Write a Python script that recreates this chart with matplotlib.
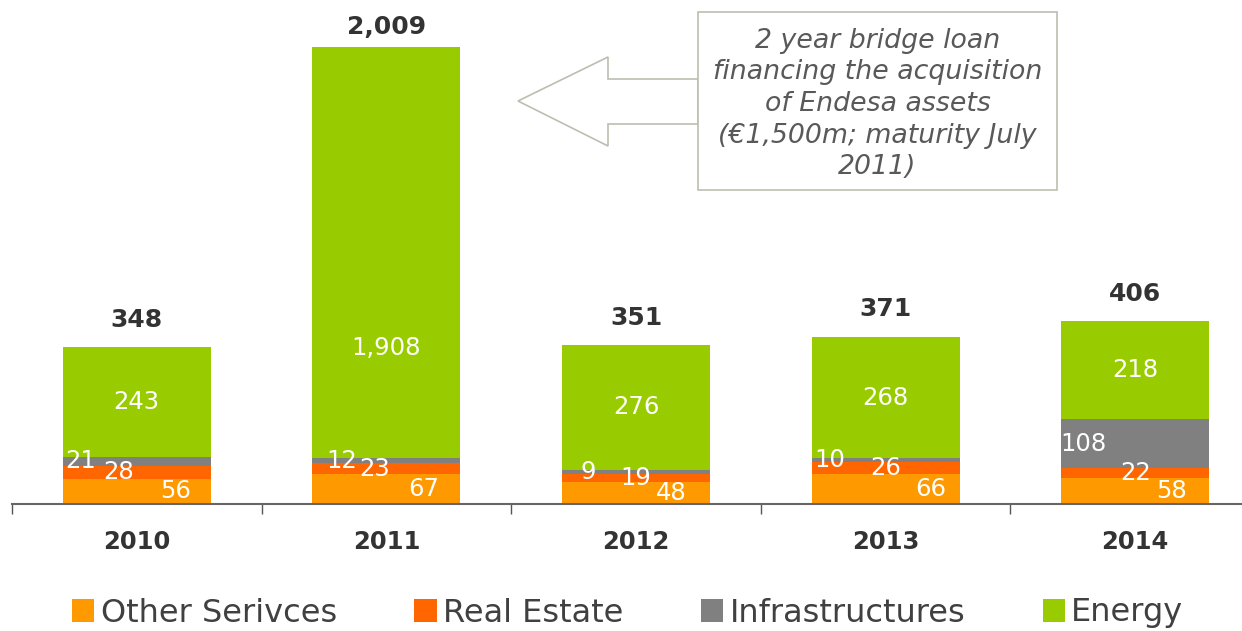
import numpy as np
import matplotlib
matplotlib.use("Agg")
import matplotlib.pyplot as plt
from matplotlib.patches import Polygon, Rectangle

years = ["2010", "2011", "2012", "2013", "2014"]
other_services = [56, 67, 48, 66, 58]
real_estate = [28, 23, 19, 26, 22]
infrastructures = [21, 12, 9, 10, 108]
energy = [243, 1908, 276, 268, 218]
totals = [348, 2009, 351, 371, 406]
series_names = ["Other Serivces", "Real Estate", "Infrastructures", "Energy"]

colors = ["#FF9900", "#FF6600", "#808080", "#99CC00"]
# label x-offsets (category units) for the small segments, per year
offs = {
    0: [0.156, 0.148, 0.143, 0.18, 0.145],
    1: [-0.072, -0.048, 0.0, 0.0, 0.0],
    2: [-0.224, -0.18, -0.19, -0.224, -0.208],
}
ymax = 1013  # 2011 bar is cut at the top of the plot

W, H = 1242, 631
fig = plt.figure(figsize=(W / 100, H / 100), dpi=100)
ax = fig.add_axes([12 / W, 1 - 504 / H, (W - 12) / W, 457 / H])

x = np.arange(len(years))
series = [other_services, real_estate, infrastructures, energy]
bottom = np.zeros(len(years))
for k, (vals, c) in enumerate(zip(series, colors)):
    ax.bar(x, vals, 0.593, bottom=bottom, color=c, label=series_names[k], zorder=2)
    for i, v in enumerate(vals):
        if k < 3:
            ax.text(i + offs[k][i], bottom[i] + v / 2, f"{v:,}", color="white",
                    fontsize=17.5, ha="center", va="center", zorder=3)
        else:
            yl = bottom[i] + min(v, ymax - bottom[i]) / 2
            if i == 1:
                yl = 346
            ax.text(i, yl, f"{v:,}", color="white", fontsize=17.5,
                    ha="center", va="center", zorder=3)
    bottom += np.array(vals)

for i, t in enumerate(totals):
    dy = 11 if t < ymax else 6
    ax.annotate(f"{t:,}", xy=(i, min(t, ymax)), xytext=(0, dy), textcoords="offset points",
                ha="center", va="bottom", fontsize=18, fontweight="bold",
                color="#333333", annotation_clip=False)

ax.set_xlim(-0.5, 4.5 - 18 / 249.6)
ax.set_ylim(0, ymax)
for s in ["left", "right", "top"]:
    ax.spines[s].set_visible(False)
ax.spines["bottom"].set_color("#666666")
ax.spines["bottom"].set_linewidth(1.5)
ax.set_yticks([])
ax.set_xticks(np.arange(-0.5, 4.5, 1.0))
ax.set_xticklabels([])
ax.tick_params(axis="x", which="major", length=7, color="#555555", width=1)
ax.set_xticks(x, minor=True)
ax.set_xticklabels(years, minor=True, fontsize=17.5, fontweight="bold", color="#333333")
ax.tick_params(axis="x", which="minor", length=0, pad=19)

# callout box with left-pointing arrow
pts = [(518, 101), (608, 57), (608, 79), (698, 79), (698, 124), (608, 124), (608, 146)]
arrow = Polygon([(px / W, 1 - py / H) for px, py in pts], closed=True,
                transform=fig.transFigure, facecolor="white", edgecolor="#bdbdb0", lw=1.2)
fig.patches.append(arrow)
box = Rectangle((698 / W, 1 - 190 / H), (1057 - 698) / W, 178 / H, transform=fig.transFigure,
                facecolor="white", edgecolor="#bdbdb0", lw=1.2)
fig.patches.append(box)
fig.text(877.5 / W, 1 - 104 / H,
         "2 year bridge loan\nfinancing the acquisition\nof Endesa assets\n(\u20ac1,500m; maturity July\n2011)",
         ha="center", va="center", fontsize=19.3, style="italic", color="#595959", linespacing=1.28)

leg = fig.legend(loc="center left", bbox_to_anchor=(72 / W, 1 - 613 / H), ncol=4,
                 frameon=False, fontsize=23, handlelength=0.7, handleheight=0.7,
                 handletextpad=0.2, columnspacing=2.42, borderaxespad=0, borderpad=0)
for t in leg.get_texts():
    t.set_color("#404040")

fig.savefig("out.png", dpi=100)
